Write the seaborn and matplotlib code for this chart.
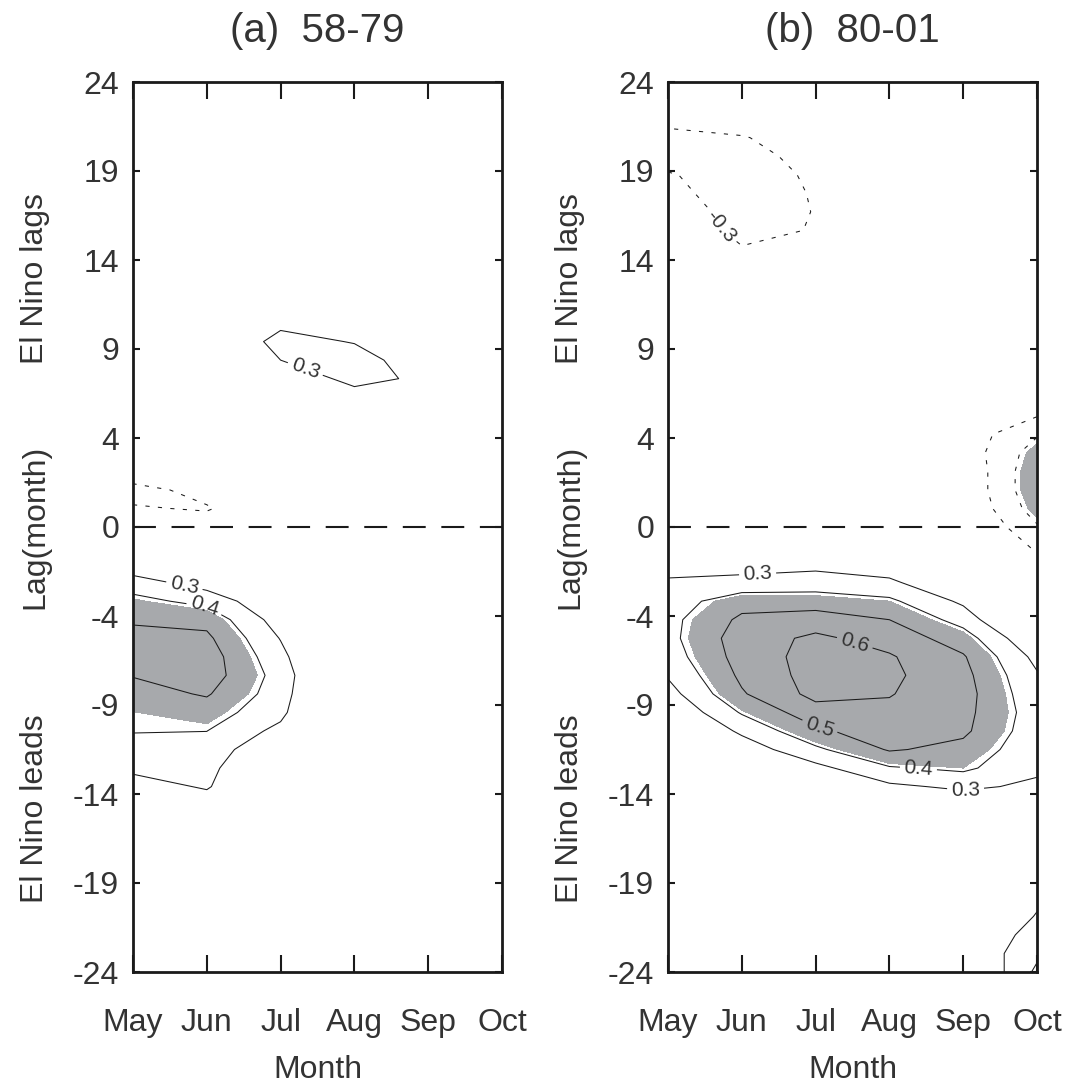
import numpy as np
import matplotlib
matplotlib.use("Agg")
import matplotlib.pyplot as plt
import matplotlib.transforms as mtransforms
import seaborn as sns

# Datos: correlacion retrasada (filas = lag 24 ... -24, columnas = May ... Oct)
months = ["May", "Jun", "Jul", "Aug", "Sep", "Oct"]
month_num = [5, 6, 7, 8, 9, 10]
lags = list(range(24, -25, -1))
lag_ticklabels = ["24", "19", "14", "9", "4", "0", "-4", "-9", "-14", "-19", "-24"]
titles = ["(a)  58-79", "(b)  80-01"]
niveles = [-0.4, -0.3, 0.3, 0.4, 0.5, 0.6]

corr_58_79 = [
    [0.05, 0.08, 0.10, 0.12, 0.10, 0.05],    # 24
    [0.06, 0.09, 0.11, 0.12, 0.10, 0.06],    # 23
    [0.05, 0.08, 0.10, 0.10, 0.08, 0.05],    # 22
    [0.02, 0.05, 0.08, 0.08, 0.06, 0.04],    # 21
    [0.00, 0.03, 0.05, 0.06, 0.05, 0.03],    # 20
    [-0.02, 0.00, 0.03, 0.05, 0.04, 0.02],   # 19
    [-0.03, -0.02, 0.02, 0.05, 0.05, 0.03],  # 18
    [-0.02, -0.01, 0.03, 0.06, 0.06, 0.04],  # 17
    [0.00, 0.02, 0.05, 0.08, 0.07, 0.05],    # 16
    [0.02, 0.04, 0.07, 0.10, 0.08, 0.06],    # 15
    [0.03, 0.06, 0.10, 0.12, 0.10, 0.07],    # 14
    [0.05, 0.08, 0.12, 0.14, 0.11, 0.08],    # 13
    [0.06, 0.12, 0.20, 0.17, 0.12, 0.09],    # 12
    [0.09, 0.18, 0.28, 0.22, 0.14, 0.10],    # 11
    [0.11, 0.20, 0.33, 0.295, 0.18, 0.12],   # 10
    [0.08, 0.16, 0.30, 0.34, 0.24, 0.14],    # 9
    [0.05, 0.12, 0.23, 0.33, 0.28, 0.15],    # 8
    [0.02, 0.08, 0.16, 0.26, 0.22, 0.13],    # 7
    [-0.02, 0.04, 0.10, 0.18, 0.15, 0.10],   # 6
    [-0.08, 0.00, 0.05, 0.12, 0.10, 0.07],   # 5
    [-0.14, -0.06, 0.00, 0.06, 0.05, 0.04],  # 4
    [-0.22, -0.14, -0.06, 0.00, 0.02, 0.02], # 3
    [-0.34, -0.26, -0.12, -0.04, 0.00, 0.00],  # 2
    [-0.29, -0.31, -0.20, -0.08, -0.02, -0.01],  # 1
    [-0.22, -0.24, -0.15, -0.05, -0.01, 0.00],   # 0
    [0.05, 0.05, 0.05, 0.02, 0.00, 0.00],    # -1
    [0.22, 0.15, 0.10, 0.04, 0.01, 0.00],    # -2
    [0.35, 0.25, 0.15, 0.06, 0.02, 0.00],    # -3
    [0.43, 0.37, 0.20, 0.07, 0.02, -0.01],   # -4
    [0.48, 0.47, 0.25, 0.07, 0.01, -0.02],   # -5
    [0.55, 0.52, 0.295, 0.07, 0.00, -0.03],  # -6
    [0.56, 0.55, 0.33, 0.06, -0.01, -0.04],  # -7
    [0.505, 0.55, 0.36, 0.05, -0.02, -0.04], # -8
    [0.46, 0.51, 0.35, 0.03, -0.03, -0.05],  # -9
    [0.418, 0.45, 0.33, 0.00, -0.04, -0.05], # -10
    [0.405, 0.401, 0.27, -0.02, -0.05, -0.06],  # -11
    [0.36, 0.36, 0.20, -0.04, -0.06, -0.06], # -12
    [0.32, 0.33, 0.16, -0.05, -0.07, -0.07], # -13
    [0.26, 0.31, 0.15, -0.06, -0.08, -0.08], # -14
    [0.20, 0.25, 0.12, -0.06, -0.08, -0.09], # -15
    [0.15, 0.18, 0.08, -0.05, -0.08, -0.10], # -16
    [0.10, 0.12, 0.05, -0.04, -0.08, -0.10], # -17
    [0.06, 0.08, 0.03, -0.03, -0.07, -0.10], # -18
    [0.03, 0.05, 0.02, -0.02, -0.06, -0.09], # -19
    [0.02, 0.03, 0.01, -0.01, -0.05, -0.08], # -20
    [0.01, 0.02, 0.01, 0.00, -0.04, -0.07],  # -21
    [0.00, 0.01, 0.00, 0.00, -0.03, -0.06],  # -22
    [0.00, 0.00, 0.00, 0.00, -0.02, -0.05],  # -23
    [0.00, 0.00, 0.00, 0.00, -0.02, -0.04],  # -24
]

corr_80_01 = [
    [-0.18, -0.13, -0.08, -0.05, -0.03, -0.02],  # 24
    [-0.22, -0.17, -0.10, -0.06, -0.04, -0.03],  # 23
    [-0.27, -0.22, -0.15, -0.08, -0.05, -0.04],  # 22
    [-0.33, -0.31, -0.22, -0.10, -0.06, -0.05],  # 21
    [-0.36, -0.34, -0.26, -0.12, -0.07, -0.06],  # 20
    [-0.29, -0.36, -0.28, -0.14, -0.08, -0.06],  # 19
    [-0.26, -0.37, -0.29, -0.15, -0.09, -0.07],  # 18
    [-0.20, -0.37, -0.295, -0.15, -0.09, -0.08], # 17
    [-0.15, -0.35, -0.29, -0.14, -0.09, -0.08],  # 16
    [-0.12, -0.29, -0.22, -0.12, -0.08, -0.08],  # 15
    [-0.10, -0.22, -0.18, -0.10, -0.07, -0.08],  # 14
    [-0.08, -0.16, -0.14, -0.08, -0.06, -0.08],  # 13
    [-0.06, -0.10, -0.10, -0.06, -0.06, -0.09],  # 12
    [-0.04, -0.06, -0.07, -0.05, -0.06, -0.10],  # 11
    [-0.02, -0.03, -0.04, -0.04, -0.07, -0.12],  # 10
    [0.00, 0.00, -0.02, -0.04, -0.08, -0.14],    # 9
    [0.02, 0.02, 0.00, -0.04, -0.10, -0.16],     # 8
    [0.03, 0.03, 0.00, -0.05, -0.15, -0.22],     # 7
    [0.04, 0.03, 0.00, -0.06, -0.20, -0.295],    # 6
    [0.05, 0.03, 0.00, -0.08, -0.24, -0.39],     # 5
    [0.06, 0.04, 0.00, -0.10, -0.236, -0.45],    # 4
    [0.08, 0.05, 0.02, -0.08, -0.21, -0.48],     # 3
    [0.10, 0.08, 0.05, -0.05, -0.21, -0.48],     # 2
    [0.12, 0.10, 0.08, 0.00, -0.20, -0.45],      # 1
    [0.15, 0.12, 0.12, 0.10, -0.17, -0.39],      # 0
    [0.20, 0.18, 0.20, 0.17, -0.08, -0.33],      # -1
    [0.27, 0.26, 0.27, 0.24, 0.08, -0.26],       # -2
    [0.31, 0.33, 0.35, 0.32, 0.20, -0.15],       # -3
    [0.35, 0.46, 0.45, 0.42, 0.28, -0.02],       # -4
    [0.37, 0.52, 0.55, 0.50, 0.36, 0.10],        # -5
    [0.37, 0.55, 0.62, 0.56, 0.45, 0.20],        # -6
    [0.35, 0.54, 0.64, 0.61, 0.51, 0.27],        # -7
    [0.31, 0.52, 0.64, 0.62, 0.53, 0.31],        # -8
    [0.26, 0.49, 0.63, 0.605, 0.54, 0.33],       # -9
    [0.20, 0.41, 0.56, 0.58, 0.53, 0.35],        # -10
    [0.15, 0.32, 0.48, 0.56, 0.52, 0.34],        # -11
    [0.10, 0.24, 0.38, 0.51, 0.47, 0.33],        # -12
    [0.07, 0.17, 0.27, 0.39, 0.42, 0.32],        # -13
    [0.05, 0.12, 0.20, 0.28, 0.32, 0.28],        # -14
    [0.04, 0.08, 0.14, 0.20, 0.22, 0.22],        # -15
    [0.03, 0.06, 0.10, 0.14, 0.15, 0.18],        # -16
    [0.02, 0.04, 0.07, 0.10, 0.10, 0.17],        # -17
    [0.01, 0.03, 0.05, 0.07, 0.08, 0.20],        # -18
    [0.00, 0.02, 0.04, 0.06, 0.07, 0.23],        # -19
    [0.00, 0.02, 0.04, 0.06, 0.08, 0.27],        # -20
    [0.00, 0.02, 0.05, 0.08, 0.10, 0.31],        # -21
    [0.00, 0.03, 0.06, 0.10, 0.18, 0.35],        # -22
    [0.00, 0.03, 0.07, 0.12, 0.20, 0.38],        # -23
    [0.00, 0.03, 0.07, 0.10, 0.15, 0.42],        # -24
]

# posiciones de las etiquetas de contorno (nivel -> puntos)
etiquetas_a = {0.3: [(7.36, 8.8), (5.7, -3.1)], 0.4: [(5.98, -4.1)]}
etiquetas_b = {-0.3: [(5.75, 16.3)], 0.3: [(6.22, -3.0), (9.04, -14.5)],
               0.4: [(8.39, -13.2)], 0.5: [(7.04, -11.0)], 0.6: [(7.53, -6.25)]}

# Configuracion general
sns.set_theme(style="white")
plt.rcParams["font.family"] = ["Liberation Sans", "DejaVu Sans"]
GRIS_TEXTO = "#333333"
GRIS_SIG = "#a7a9ac"
SIG = 0.42  # umbral de significancia (95%)

fig = plt.figure(figsize=(10.72, 10.84), dpi=100)
W, H = 1072, 1084
ax_a = fig.add_axes([133 / W, 112 / H, 369 / W, 890 / H])
ax_b = fig.add_axes([668 / W, 112 / H, 369 / W, 890 / H])


def dibujar_panel(ax, datos, titulo, etiquetas):
    Z = np.array(datos)
    X, Y = np.meshgrid(month_num, lags)
    ax.contourf(X, Y, Z, levels=[SIG, 1.0], colors=[GRIS_SIG], zorder=1)
    ax.contourf(X, Y, Z, levels=[-1.0, -SIG], colors=[GRIS_SIG], zorder=1)

    # un contour por nivel para poder etiquetar cada uno por separado
    for nivel in niveles:
        estilo = (0, (4, 8)) if nivel < 0 else "solid"
        cs = ax.contour(X, Y, Z, levels=[nivel], colors="k", linewidths=0.75,
                        linestyles=[estilo], zorder=2)
        if nivel in etiquetas:
            cs.clabel(manual=etiquetas[nivel], fmt="%.1f", fontsize=15,
                      inline=True, inline_spacing=4, colors=GRIS_TEXTO)

    ax.axhline(0, color="k", lw=1.5, ls=(0, (11, 7.5)), zorder=3)

    ax.set_xlim(5, 10)
    ax.set_ylim(-24, 24)
    ax.set_xticks(month_num)
    ax.set_xticklabels(months)
    ax.set_yticks(np.linspace(24, -24, 11))
    ax.set_yticklabels(lag_ticklabels)
    ax.tick_params(axis="both", direction="in", top=True, right=True,
                   bottom=True, left=True, width=1.5, color="k",
                   labelsize=23, labelcolor=GRIS_TEXTO)
    ax.tick_params(axis="x", length=12, pad=26)
    ax.tick_params(axis="y", length=5, pad=10)
    for s in ax.spines.values():
        s.set_linewidth(2)
        s.set_color("#1a1a1a")
        s.set_visible(True)
    ax.set_xlabel("Month", fontsize=23, color=GRIS_TEXTO, labelpad=12)
    ax.set_title(titulo, fontsize=29, color=GRIS_TEXTO, pad=29)

    trans = mtransforms.blended_transform_factory(ax.transAxes, ax.transData)
    for texto, y in [("El Nino lags", 13.4), ("Lag(month)", 0.0), ("El Nino leads", -15.2)]:
        ax.text(-0.244, y, texto, transform=trans, rotation=90,
                rotation_mode="anchor", ha="center", va="baseline",
                fontsize=23, color=GRIS_TEXTO)


dibujar_panel(ax_a, corr_58_79, titles[0], etiquetas_a)
dibujar_panel(ax_b, corr_80_01, titles[1], etiquetas_b)

fig.savefig("out.png", dpi=100, facecolor="white")
